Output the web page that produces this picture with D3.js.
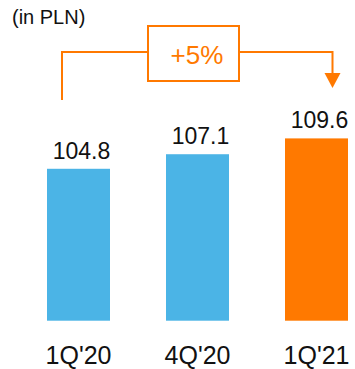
<!DOCTYPE html>
<html><head><meta charset="utf-8">
<script src="https://cdn.jsdelivr.net/npm/d3@7"></script>
<style>html,body{margin:0;padding:0;background:#fff;}svg{display:block;}</style>
</head><body>
<svg id="c" width="355" height="369"></svg>
<script>
const categories = ["1Q'20", "4Q'20", "1Q'21"];
const values = [104.8, 107.1, 109.6];
const barColors = ["#4bb4e6", "#4bb4e6", "#ff7900"];
const unitLabel = "(in PLN)";
const changeLabel = "+5%";

const svg = d3.select("#c");
const font = "'Liberation Sans', Arial, Helvetica, sans-serif";
const orange = "#ff7900";

const x = d3.scaleBand().domain(categories).range([19, 376])
  .paddingInner(0.4706).paddingOuter(0.2353);
const y = d3.scaleLinear().domain([80.8, 109.6]).range([320.7, 138.4]);

svg.selectAll("rect.bar").data(values).join("rect")
  .attr("class", "bar")
  .attr("x", (d, i) => x(categories[i]))
  .attr("y", d => y(d))
  .attr("width", x.bandwidth())
  .attr("height", d => y.range()[0] - y(d))
  .attr("fill", (d, i) => barColors[i]);

svg.selectAll("text.val").data(values).join("text")
  .attr("class", "val")
  .attr("x", (d, i) => x(categories[i]) + x.bandwidth() / 2 + 3)
  .attr("y", d => y(d) - 10)
  .attr("text-anchor", "middle")
  .attr("font-family", font).attr("font-size", 23).attr("fill", "#111")
  .text(d => d.toFixed(1));

const xAxis = svg.append("g").attr("transform", "translate(0,364)")
  .call(d3.axisBottom(x).tickSize(0).tickPadding(0));
xAxis.select(".domain").remove();
xAxis.selectAll("text").attr("font-family", font).attr("font-size", 25)
  .attr("fill", "#111").attr("dy", 0).attr("y", 0);

svg.append("text").attr("x", 12).attr("y", 24)
  .attr("font-family", font).attr("font-size", 20).attr("fill", "#111")
  .text(unitLabel);

// growth annotation
const g = svg.append("g").attr("fill", "none").attr("stroke", orange).attr("stroke-width", 2);
g.append("path").attr("d", "M62,100V52H148");
g.append("rect").attr("x", 148).attr("y", 26).attr("width", 91).attr("height", 55);
g.append("path").attr("d", "M239,52H332.5V74");
svg.append("path").attr("d", "M324.5,73H340.5L332.5,88Z").attr("fill", orange);
svg.append("text").attr("x", 197).attr("y", 64).attr("text-anchor", "middle")
  .attr("font-family", font).attr("font-size", 26).attr("fill", orange)
  .text(changeLabel);
</script>
</body></html>
